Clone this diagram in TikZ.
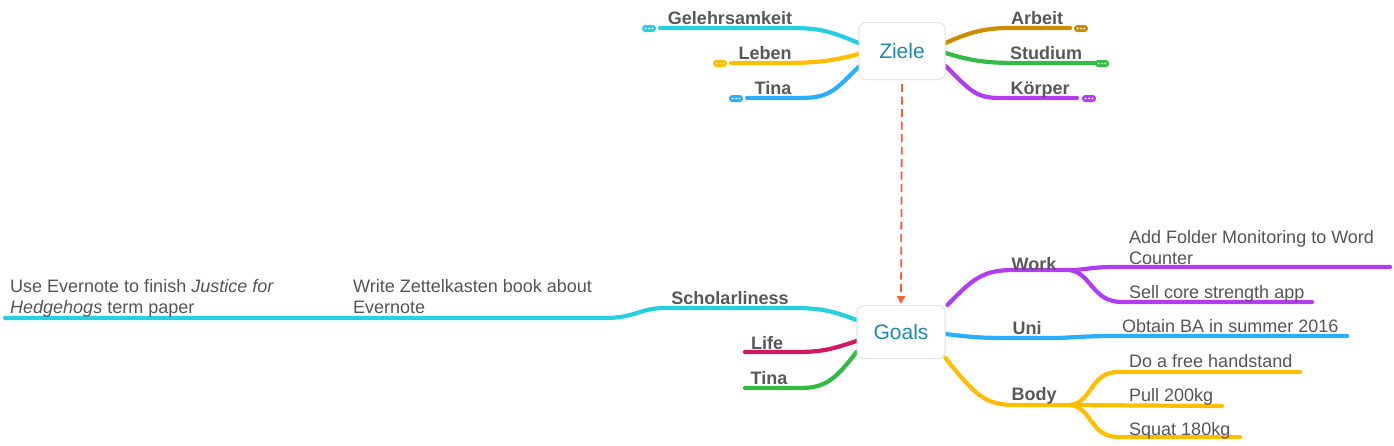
\documentclass[tikz,border=0pt]{standalone}
\usepackage{fontspec}
\setmainfont{Liberation Sans}
\usetikzlibrary{arrows.meta}
\definecolor{cyanc}{HTML}{27CFE0}
\definecolor{yellowc}{HTML}{FFBF00}
\definecolor{bluec}{HTML}{2AAEFF}
\definecolor{goldc}{HTML}{CC8E00}
\definecolor{greenc}{HTML}{33BB44}
\definecolor{purplec}{HTML}{B23CF0}
\definecolor{crimsonc}{HTML}{D21860}
\definecolor{labgray}{HTML}{585858}
\definecolor{leafgray}{HTML}{555555}
\definecolor{tealc}{HTML}{1E8BAA}
\definecolor{boxgray}{HTML}{E6E6E6}
\definecolor{dashc}{HTML}{FF5B33}
\begin{document}
\begin{tikzpicture}[x=1pt,y=-1pt,
  br/.style={line width=4.2pt, line cap=round, draw=#1},
  lab/.style={font=\fontsize{18}{20}\selectfont\bfseries, text=labgray, inner sep=0pt, anchor=base},
  leaf/.style={font=\fontsize{18}{21}\selectfont, text=leafgray, inner sep=0pt, align=left, anchor=base west},
  root/.style={draw=boxgray, line width=1pt, fill=white, rounded corners=7pt, minimum width=86pt, minimum height=57pt, text=tealc, font=\fontsize{21}{24}\selectfont},
  pill/.style={fill=#1, rounded corners=3.2pt, minimum width=14pt, minimum height=7pt, inner sep=0pt,
    path picture={\fill[white] (path picture bounding box.center) circle (1pt)
      ([xshift=-3.4pt]path picture bounding box.center) circle (1pt)
      ([xshift=3.4pt]path picture bounding box.center) circle (1pt);}}
]
\useasboundingbox (0,0) rectangle (1394,445);

% root nodes
\node[root] (ziele) at (902,51) {Ziele};
\node[root, minimum width=88pt, minimum height=53pt] (goals) at (901,332) {Goals};

% ---------- Ziele branches ----------
\coordinate (zG) at (660,28);
\coordinate (zL) at (731,63);
\coordinate (zT) at (747,98);
\coordinate (zA) at (1070,28);
\coordinate (zS) at (1095,63);
\coordinate (zK) at (1077,98);

\draw[br=cyanc] ([yshift=8pt]ziele.west) .. controls (830,31) and (820,28) .. (790,28) -- (zG);
\draw[br=yellowc] ([yshift=-3pt]ziele.west) .. controls (830,62) and (810,63) .. (780,63) -- (zL);
\draw[br=bluec] ([yshift=-16pt]ziele.west) .. controls (835,90) and (830,98) .. (800,98) -- (zT);
\draw[br=goldc] ([yshift=8pt]ziele.east) .. controls (970,32) and (985,28) .. (1010,28) -- (zA);
\draw[br=greenc] ([yshift=-2pt]ziele.east) .. controls (975,62) and (990,63) .. (1020,63) -- (zS);
\draw[br=purplec] ([yshift=-15pt]ziele.east) .. controls (970,90) and (975,98) .. (1000,98) -- (zK);

\node[pill=cyanc] (pG) at (649,28.5) {};
\node[pill=yellowc] (pL) at (720,63.5) {};
\node[pill=bluec] (pT) at (736,98.5) {};
\node[pill=goldc] (pA) at (1081,28.5) {};
\node[pill=greenc] (pS) at (1102,63.5) {};
\node[pill=purplec] (pK) at (1089,98.5) {};

\node[lab] (lG) at (730,24) {Gelehrsamkeit};
\node[lab] (lL) at (765,59) {Leben};
\node[lab] (lT) at (773,94) {Tina};
\node[lab] (lA) at (1037,24) {Arbeit};
\node[lab] (lS) at (1046,59) {Studium};
\node[lab] (lK) at (1040,94) {Körper};

% dashed link
\draw[dashc, line width=1.8pt, dash pattern=on 8pt off 4.5pt, shorten <=4pt, shorten >=1pt,
  -{Triangle[length=8pt,width=8pt]}] (ziele.south) -- (goals.north);

% ---------- Goals branches ----------
\coordinate (gS) at (5,318);
\coordinate (gL) at (745,352);
\coordinate (gT) at (745,388);
\coordinate (wJ) at (1070,270);
\coordinate (wA) at (1390,267);
\coordinate (wB) at (1312,302);
\coordinate (uJ) at (1058,338);
\coordinate (uA) at (1347,336);
\coordinate (bJ) at (1070,405);
\coordinate (bA) at (1300,372);
\coordinate (bB) at (1222,406);
\coordinate (bC) at (1240,437);

\draw[br=cyanc] ([yshift=12pt]goals.west) .. controls (830,310) and (820,308) .. (790,308) -- (665,308)
  .. controls (640,308) and (635,318) .. (605,318) -- (gS);
\draw[br=crimsonc] ([yshift=-9pt]goals.west) .. controls (830,350) and (820,352) .. (795,352) -- (gL);
\draw[br=greenc] ([yshift=-20pt]goals.west) .. controls (835,380) and (825,388) .. (800,388) -- (gT);

\draw[br=purplec] ([xshift=2pt]goals.north east) .. controls (975,276) and (985,270) .. (1015,270) -- (wJ);
\draw[br=purplec] (wJ) .. controls (1085,270) and (1090,267) .. (1115,267) -- (wA);
\draw[br=purplec] (wJ) .. controls (1092,274) and (1092,302) .. (1122,302) -- (wB);

\draw[br=bluec] ([yshift=-2pt]goals.east) .. controls (970,337) and (980,338) .. (1010,338) -- (uJ);
\draw[br=bluec] (uJ) .. controls (1080,337) and (1090,336) .. (1115,336) -- (uA);

\draw[br=yellowc] ([yshift=1pt]goals.south east) .. controls (975,395) and (985,405) .. (1015,405) -- (bJ);
\draw[br=yellowc] (bJ) .. controls (1092,403) and (1090,372) .. (1118,372) -- (bA);
\draw[br=yellowc] (bJ) -- (bB);
\draw[br=yellowc] (bJ) .. controls (1092,407) and (1090,437) .. (1118,437) -- (bC);

% redraw root boxes on top
\node[root] at (ziele) {Ziele};
\node[root, minimum width=88pt, minimum height=53pt] at (goals) {Goals};

\node[lab] (lSch) at (730,304) {Scholarliness};
\node[lab] (lLi) at (767,349) {Life};
\node[lab] (lTi) at (769,384) {Tina};
\node[lab] (lW) at (1034,270) {Work};
\node[lab] (lU) at (1027,334) {Uni};
\node[lab] (lB) at (1034,400) {Body};

\node[leaf] (t1) at (10,313) {Use Evernote to finish \textit{Justice for}\\\textit{Hedgehogs} term paper};
\node[leaf] (t2) at (353,313) {Write Zettelkasten book about\\Evernote};
\node[leaf] (t3) at (1129,264) {Add Folder Monitoring to Word\\Counter};
\node[leaf] (t4) at (1129,298) {Sell core strength app};
\node[leaf] (t5) at (1122,332) {Obtain BA in summer 2016};
\node[leaf] (t6) at (1129,367) {Do a free handstand};
\node[leaf] (t7) at (1129,401) {Pull 200kg};
\node[leaf] (t8) at (1129,435) {Squat 180kg};
\end{tikzpicture}
\end{document}
